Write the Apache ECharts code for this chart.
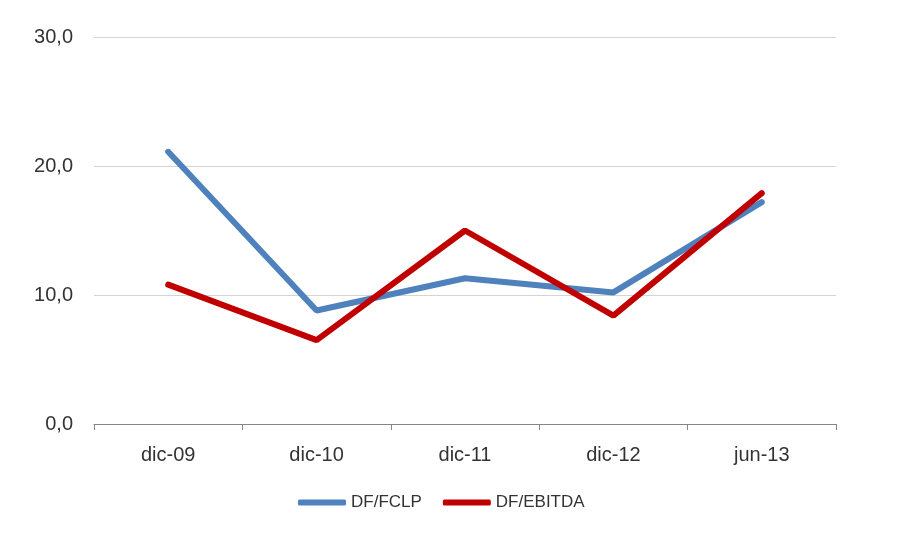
<!DOCTYPE html>
<html>
<head>
<meta charset="utf-8">
<script src="https://cdn.jsdelivr.net/npm/echarts@6/dist/echarts.min.js"></script>
<style>
  html, body { margin: 0; padding: 0; background: #fff; }
  #chart { width: 904px; height: 540px; }
</style>
</head>
<body>
<div id="chart"></div>
<script>
const categories = ['dic-09', 'dic-10', 'dic-11', 'dic-12', 'jun-13']
const fclp = [21.1, 8.8, 11.3, 10.2, 17.2]
const ebitda = [10.8, 6.5, 15.0, 8.4, 17.9]
const yTicks = [0, 10, 20, 30]

const textColor = '#333333'
const font = 'Liberation Sans, Arial, sans-serif'

const chart = echarts.init(document.getElementById('chart'))
chart.setOption({
  animation: false,
  grid: { left: 94, right: 68, top: 37, bottom: 116 },
  legend: {
    left: 298,
    top: 494,
    padding: 0,
    itemWidth: 48,
    itemHeight: 6,
    itemGap: 21,
    icon: 'roundRect',
    textStyle: { color: textColor, fontFamily: font, fontSize: 17 },
    data: ['DF/FCLP', 'DF/EBITDA'],
  },
  xAxis: {
    type: 'category',
    data: categories,
    boundaryGap: true,
    axisLine: { lineStyle: { color: '#868686', width: 1 } },
    axisTick: { show: true, length: 6, lineStyle: { color: '#868686' } },
    axisLabel: { color: textColor, fontFamily: font, fontSize: 20, margin: 21 },
  },
  yAxis: {
    type: 'value',
    min: yTicks[0],
    max: yTicks[yTicks.length - 1],
    interval: 10,
    axisLine: { show: false },
    axisTick: { show: false },
    splitLine: { lineStyle: { color: '#d4d4d4', width: 1 } },
    axisLabel: {
      color: textColor,
      fontFamily: font,
      fontSize: 20,
      margin: 21,
      formatter: v => v.toFixed(1).replace('.', ','),
    },
  },
  series: [
    {
      name: 'DF/FCLP',
      type: 'line',
      data: fclp,
      symbol: 'none',
      lineStyle: { color: '#4f81bd', width: 6, cap: 'round' },
      itemStyle: { color: '#4f81bd' },
    },
    {
      name: 'DF/EBITDA',
      type: 'line',
      data: ebitda,
      symbol: 'none',
      lineStyle: { color: '#c00000', width: 6, cap: 'round' },
      itemStyle: { color: '#c00000' },
    },
  ],
})
</script>
</body>
</html>
